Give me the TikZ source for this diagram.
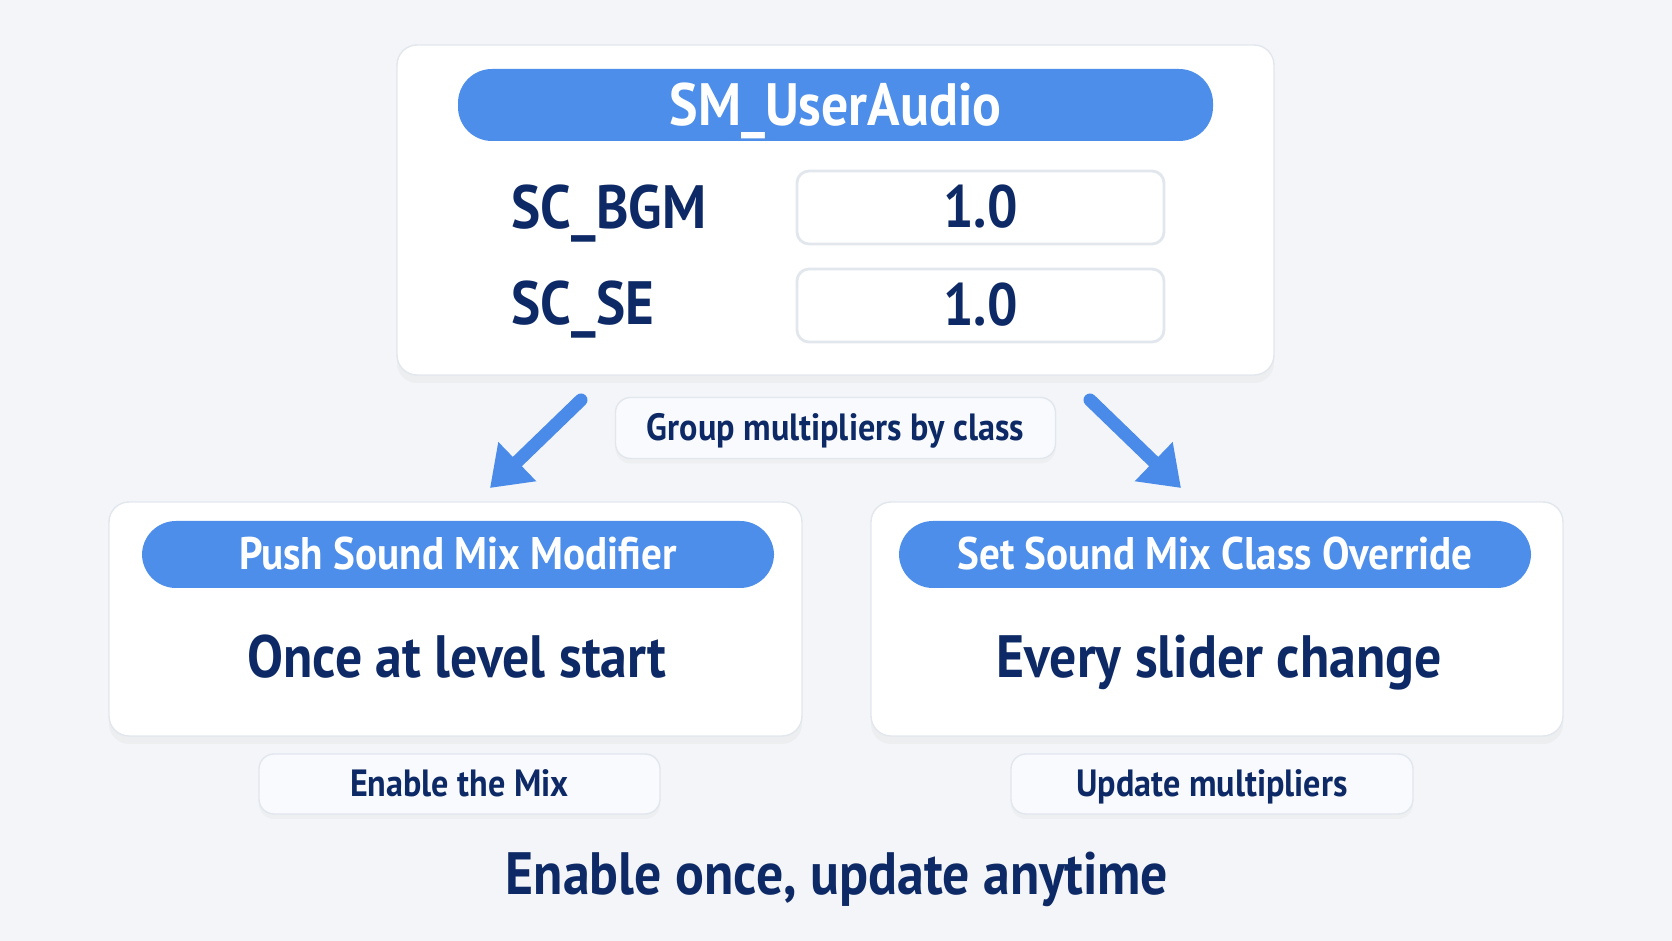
\documentclass[tikz,border=0pt]{standalone}
\usepackage{fontspec}
\setmainfont{PT Sans}[FakeStretch=0.9]
\usetikzlibrary{arrows.meta, shadows}
\definecolor{bgpage}{HTML}{F3F5F8}
\definecolor{pillblue}{HTML}{4C8EEA}
\definecolor{arrowblue}{HTML}{4A8BEA}
\definecolor{navy}{HTML}{0E2A66}
\definecolor{edgegrey}{HTML}{E2E7EE}
\definecolor{tagfill}{HTML}{F8FAFD}
\tikzstyle{card} = [rectangle, rounded corners=2mm, fill=white, draw=edgegrey, inner sep=0pt, drop shadow={shadow xshift=0pt, shadow yshift=-0.8mm, opacity=0.06}]
\tikzstyle{pill} = [rectangle, rounded corners=3.4mm, fill=pillblue, text=white, inner sep=0pt, text height=8.8pt, text depth=0pt, font=\bfseries\fontsize{13}{15}\selectfont]
\tikzstyle{valbox} = [rectangle, rounded corners=1.2mm, fill=white, draw=edgegrey, line width=0.8pt, minimum width=36.7mm, minimum height=7.3mm, inner sep=0pt, text height=11.5pt, text depth=0pt, text=navy, font=\bfseries\fontsize{17}{20}\selectfont]
\tikzstyle{classname} = [anchor=west, inner sep=0pt, text height=11.8pt, text depth=0pt, text=navy, font=\bfseries\fontsize{17.4}{20}\selectfont]
\tikzstyle{tag} = [rectangle, rounded corners=1.5mm, fill=tagfill, draw=edgegrey, minimum height=6mm, inner sep=0pt, text height=7.3pt, text depth=0pt, text=navy, font=\bfseries\fontsize{10.8}{13}\selectfont, drop shadow={shadow xshift=0pt, shadow yshift=-0.5mm, opacity=0.05}]
\tikzstyle{bigtext} = [inner sep=0pt, text height=11.5pt, text depth=0pt, text=navy, font=\bfseries\fontsize{17}{20}\selectfont]
\tikzstyle{arrow} = [line width=1.3mm, arrowblue, line cap=round, -{Triangle[length=3.8mm, width=5.2mm]}]

\begin{document}
\begin{tikzpicture}[x=0.1mm, y=0.1mm, node distance=16.5mm]
\fill[bgpage] (0,0) rectangle (1672,-941);
\useasboundingbox (0,0) rectangle (1672,-941);

% mix asset
\node (top) [card, minimum width=87.7mm, minimum height=33mm] at (835.5,-210) {};
\node (mix) [pill, minimum width=75.5mm, minimum height=7.2mm, text height=11.5pt, font=\bfseries\fontsize{17}{20}\selectfont] at (835.5,-105) {SM\_UserAudio};
\node (bgm) [classname] at (511,-208) {SC\_BGM};
\node (se) [classname] at (511,-304) {SC\_SE};
\node (bgmval) [valbox] at (980.5,-207.5) {1.0};
\node (seval) [valbox] at (980.5,-305.5) {1.0};
\node (group) [tag, minimum width=44mm, minimum height=6.1mm, below of=top, yshift=-5.3mm] {Group multipliers by class};

% the two blueprint nodes
\node (left) [card, minimum width=69.3mm, minimum height=23.4mm] at (455.5,-619) {};
\node (right) [card, minimum width=69.2mm, minimum height=23.4mm] at (1217,-619) {};
\node (push) [pill, minimum width=63.2mm, minimum height=6.7mm] at (458,-554.5) {Push Sound Mix Modifier};
\node (override) [pill, minimum width=63.2mm, minimum height=6.7mm] at (1215,-554.5) {Set Sound Mix Class Override};
\node (once) [bigtext] at (457,-657) {Once at level start};
\node (every) [bigtext] at (1219,-657) {Every slider change};
\node (enable) [tag, minimum width=40.1mm, below of=left, xshift=0.4mm] {Enable the Mix};
\node (update) [tag, minimum width=40.2mm, below of=right, xshift=-0.5mm] {Update multipliers};
\node (summary) [bigtext] at (837,-874) {Enable once, update anytime};

\coordinate (ltail) at (581,-400);
\coordinate (lhead) at (490,-488);
\coordinate (rtail) at (1090,-400);
\coordinate (rhead) at (1181,-488);
\draw [arrow] (ltail) -- (lhead);
\draw [arrow] (rtail) -- (rhead);
\end{tikzpicture}
\end{document}
